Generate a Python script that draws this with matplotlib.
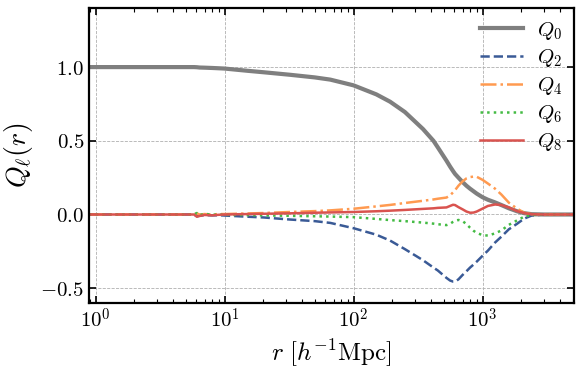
import math
import matplotlib
matplotlib.use('Agg')
import matplotlib.pyplot as plt
from matplotlib.ticker import FixedLocator, FuncFormatter, LogLocator, NullLocator

plt.rcParams['mathtext.fontset'] = 'cm'
plt.rcParams['font.family'] = 'serif'
plt.rcParams['font.serif'] = ['DejaVu Serif']

# separation r [h^-1 Mpc], shared by all multipoles
r = [0.89, 3, 5.8, 6.1, 6.4, 7.0, 8.0, 9.0, 10, 15, 20, 32, 50, 66, 100, 150, 192, 250,
     345, 416, 450, 525, 560, 590, 612, 650, 700, 750, 800, 850, 900, 1000, 1100, 1250,
     1400, 1600, 1850, 2100, 2400, 3000, 5100]

q0 = [1.0, 1.0, 1.0, 0.999, 0.997, 0.996, 0.994, 0.992, 0.99, 0.975, 0.965, 0.948, 0.93,
      0.915, 0.876, 0.815, 0.765, 0.695, 0.58, 0.5, 0.455, 0.365, 0.325, 0.295, 0.275,
      0.25, 0.22, 0.195, 0.175, 0.158, 0.142, 0.117, 0.1, 0.082, 0.064, 0.042, 0.022,
      0.009, 0.002, 0.0, 0.0]
q2 = [0.0, 0.0, 0.0, -0.012, -0.008, -0.004, -0.006, -0.005, -0.007, -0.015, -0.02,
      -0.034, -0.045, -0.057, -0.093, -0.137, -0.177, -0.235, -0.31, -0.36, -0.38, -0.43,
      -0.448, -0.455, -0.455, -0.44, -0.41, -0.385, -0.36, -0.34, -0.32, -0.28, -0.245,
      -0.19, -0.15, -0.1, -0.063, -0.028, -0.007, 0.0, 0.0]
q4 = [0.0, 0.0, 0.0, 0.008, 0.0, 0.003, 0.0, 0.003, 0.003, 0.007, 0.01, 0.017, 0.023,
      0.028, 0.039, 0.055, 0.065, 0.078, 0.093, 0.102, 0.107, 0.115, 0.13, 0.15, 0.165,
      0.195, 0.225, 0.245, 0.254, 0.257, 0.256, 0.235, 0.21, 0.175, 0.135, 0.08, 0.04,
      0.012, 0.002, 0.0, 0.0]
q6 = [0.0, 0.0, 0.0, 0.01, -0.005, 0.005, -0.002, 0.0, -0.002, -0.004, -0.006, -0.009,
      -0.012, -0.014, -0.018, -0.03, -0.038, -0.045, -0.055, -0.062, -0.066, -0.072,
      -0.063, -0.05, -0.043, -0.037, -0.045, -0.065, -0.09, -0.11, -0.125, -0.14, -0.143,
      -0.128, -0.108, -0.07, -0.04, -0.015, -0.003, 0.0, 0.0]
q8 = [0.0, 0.0, 0.0, -0.015, -0.01, -0.003, -0.006, -0.002, 0.0, 0.003, 0.005, 0.008,
      0.012, 0.014, 0.017, 0.022, 0.026, 0.031, 0.038, 0.042, 0.045, 0.048, 0.058, 0.066,
      0.064, 0.05, 0.035, 0.02, 0.012, 0.013, 0.02, 0.04, 0.058, 0.068, 0.064, 0.048,
      0.023, 0.01, 0.002, 0.0, 0.0]

series = [
    (q0, r'$Q_0$', '#7f7f7f', '-', 3.0),
    (q2, r'$Q_2$', '#3a5a96', '--', 1.8),
    (q4, r'$Q_4$', '#ff9a50', '-.', 1.8),
    (q6, r'$Q_6$', '#44bb44', ':', 1.8),
    (q8, r'$Q_8$', '#d9534f', '-', 1.8),
]

fig = plt.figure(figsize=(5.82, 3.69), dpi=100)
ax = fig.add_axes([0.153, 0.179, 0.833, 0.799])

for vals, lab, col, ls, lw in series:
    ax.plot(r, vals, color=col, ls=ls, lw=lw, label=lab)

ax.set_xscale('log')
ax.set_xlim(0.89, 5100)
ax.set_ylim(-0.6, 1.4)

ax.xaxis.set_major_locator(FixedLocator([1, 10, 100, 1000]))
ax.xaxis.set_minor_locator(LogLocator(base=10, subs=range(2, 10), numticks=20))
ax.xaxis.set_major_formatter(FuncFormatter(lambda v, p: r'$10^{%d}$' % round(math.log10(v))))
ax.yaxis.set_major_locator(FixedLocator([-0.5, 0.0, 0.5, 1.0]))
ax.yaxis.set_minor_locator(NullLocator())
ax.yaxis.set_major_formatter(FuncFormatter(lambda v, p: r'$%.1f$' % v))

ax.tick_params(which='both', direction='in', top=True, right=True, labelsize=15)
ax.tick_params(which='major', length=5, width=1.2)
ax.tick_params(which='minor', length=3, width=0.8)
for s in ax.spines.values():
    s.set_linewidth(1.6)

ax.grid(True, which='major', ls='--', color='#b0b0b0', lw=0.6)

ax.set_xlabel(r'$r\ [h^{-1}\mathrm{Mpc}]$', fontsize=18)
ax.set_ylabel(r'$Q_\ell(r)$', fontsize=20)

ax.legend(loc='upper right', frameon=False, fontsize=15, handlelength=2.1,
          labelspacing=0.28, handletextpad=0.65, borderaxespad=0.15)

fig.savefig('out.png', dpi=100)
